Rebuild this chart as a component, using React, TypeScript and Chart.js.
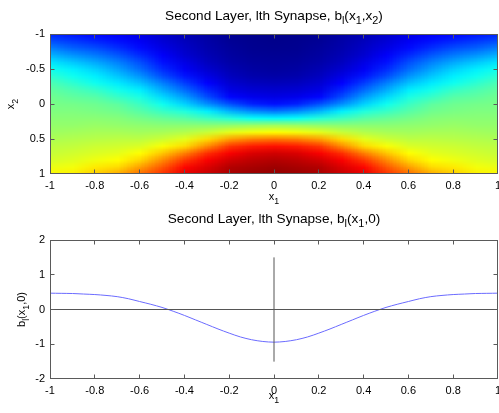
import React, { useEffect, useRef } from "react";
import { Chart, registerables } from "chart.js";

Chart.register(...registerables);

// ------------------------------------------------------------------
// DATA
// ------------------------------------------------------------------

// Heat-map grid (top panel): columns follow x1, rows follow x2.
const x1Grid = [-1, -0.9, -0.8, -0.7, -0.6, -0.5, -0.4, -0.3, -0.2, -0.1, 0, 0.1, 0.2, 0.3, 0.4, 0.5, 0.6, 0.7, 0.8, 0.9, 1];
const x2Grid = [-1, -0.9, -0.8, -0.7, -0.6, -0.5, -0.4, -0.3, -0.2, -0.1, 0, 0.1, 0.2, 0.3, 0.4, 0.5, 0.6, 0.7, 0.8, 0.9, 1];

// b_l(x1, x2)
const bRowM10 = [-0.86, -0.92, -0.98, -1.02, -1.1, -1.2, -1.3, -1.36, -1.42, -1.45, -1.46, -1.45, -1.42, -1.36, -1.3, -1.2, -1.1, -1.02, -0.98, -0.92, -0.86];
const bRowM09 = [-0.7, -0.78, -0.86, -0.94, -1.04, -1.16, -1.26, -1.34, -1.41, -1.44, -1.45, -1.44, -1.41, -1.34, -1.26, -1.16, -1.04, -0.94, -0.86, -0.78, -0.7];
const bRowM08 = [-0.5, -0.62, -0.7, -0.82, -0.96, -1.1, -1.22, -1.32, -1.39, -1.43, -1.44, -1.43, -1.39, -1.32, -1.22, -1.1, -0.96, -0.82, -0.7, -0.62, -0.5];
const bRowM07 = [-0.3, -0.42, -0.52, -0.66, -0.84, -1.02, -1.18, -1.29, -1.37, -1.41, -1.42, -1.41, -1.37, -1.29, -1.18, -1.02, -0.84, -0.66, -0.52, -0.42, -0.3];
const bRowM06 = [-0.1, -0.22, -0.34, -0.5, -0.7, -0.94, -1.1, -1.25, -1.34, -1.39, -1.4, -1.39, -1.34, -1.25, -1.1, -0.94, -0.7, -0.5, -0.34, -0.22, -0.1];
const bRowM05 = [0.06, -0.06, -0.18, -0.36, -0.58, -0.84, -1.04, -1.19, -1.3, -1.36, -1.38, -1.36, -1.3, -1.19, -1.04, -0.84, -0.58, -0.36, -0.18, -0.06, 0.06];
const bRowM04 = [0.18, 0.06, -0.06, -0.22, -0.42, -0.7, -0.92, -1.1, -1.25, -1.32, -1.34, -1.32, -1.25, -1.1, -0.92, -0.7, -0.42, -0.22, -0.06, 0.06, 0.18];
const bRowM03 = [0.3, 0.18, 0.06, -0.08, -0.24, -0.5, -0.76, -1.0, -1.18, -1.25, -1.27, -1.25, -1.18, -1.0, -0.76, -0.5, -0.24, -0.08, 0.06, 0.18, 0.3];
const bRowM02 = [0.38, 0.3, 0.22, 0.08, -0.06, -0.32, -0.58, -0.86, -1.1, -1.17, -1.19, -1.17, -1.1, -0.86, -0.58, -0.32, -0.06, 0.08, 0.22, 0.3, 0.38];
const bRowM01 = [0.44, 0.38, 0.34, 0.22, 0.1, -0.14, -0.38, -0.7, -0.98, -1.07, -1.1, -1.07, -0.98, -0.7, -0.38, -0.14, 0.1, 0.22, 0.34, 0.38, 0.44];
const bRow00 = [0.47, 0.46, 0.43, 0.37, 0.23, 0.06, -0.17, -0.43, -0.68, -0.87, -0.94, -0.87, -0.68, -0.43, -0.17, 0.06, 0.23, 0.37, 0.43, 0.46, 0.47];
const bRowP01 = [0.5, 0.5, 0.48, 0.44, 0.34, 0.22, 0.12, -0.06, -0.3, -0.46, -0.54, -0.46, -0.3, -0.06, 0.12, 0.22, 0.34, 0.44, 0.48, 0.5, 0.5];
const bRowP02 = [0.54, 0.54, 0.54, 0.52, 0.46, 0.4, 0.34, 0.24, 0.14, 0.02, -0.02, 0.02, 0.14, 0.24, 0.34, 0.4, 0.46, 0.52, 0.54, 0.54, 0.54];
const bRowP03 = [0.58, 0.58, 0.6, 0.58, 0.56, 0.54, 0.54, 0.54, 0.56, 0.6, 0.62, 0.6, 0.56, 0.54, 0.54, 0.54, 0.56, 0.58, 0.6, 0.58, 0.58];
const bRowP04 = [0.62, 0.64, 0.66, 0.66, 0.64, 0.66, 0.7, 0.78, 0.9, 0.96, 1.0, 0.96, 0.9, 0.78, 0.7, 0.66, 0.64, 0.66, 0.66, 0.64, 0.62];
const bRowP05 = [0.68, 0.7, 0.72, 0.74, 0.74, 0.8, 0.9, 1.14, 1.38, 1.5, 1.54, 1.5, 1.38, 1.14, 0.9, 0.8, 0.74, 0.74, 0.72, 0.7, 0.68];
const bRowP06 = [0.74, 0.76, 0.8, 0.82, 0.86, 0.98, 1.14, 1.46, 1.78, 1.9, 1.94, 1.9, 1.78, 1.46, 1.14, 0.98, 0.86, 0.82, 0.8, 0.76, 0.74];
const bRowP07 = [0.78, 0.82, 0.86, 0.9, 1.0, 1.22, 1.5, 1.82, 2.02, 2.14, 2.18, 2.14, 2.02, 1.82, 1.5, 1.22, 1.0, 0.9, 0.86, 0.82, 0.78];
const bRowP08 = [0.84, 0.88, 0.94, 1.0, 1.16, 1.46, 1.78, 2.02, 2.18, 2.26, 2.3, 2.26, 2.18, 2.02, 1.78, 1.46, 1.16, 1.0, 0.94, 0.88, 0.84];
const bRowP09 = [0.92, 0.96, 1.08, 1.14, 1.38, 1.66, 1.98, 2.14, 2.3, 2.34, 2.38, 2.34, 2.3, 2.14, 1.98, 1.66, 1.38, 1.14, 1.08, 0.96, 0.92];
const bRowP10 = [1.02, 1.06, 1.2, 1.34, 1.58, 1.82, 2.1, 2.22, 2.34, 2.4, 2.42, 2.4, 2.34, 2.22, 2.1, 1.82, 1.58, 1.34, 1.2, 1.06, 1.02];

const colorLimits = [-1.5, 2.5];

// Bottom panel: b_l(x1, 0)
const lineX1 = [
  -1, -0.95, -0.9, -0.85, -0.8, -0.75, -0.7, -0.65, -0.6, -0.55, -0.5, -0.45, -0.4, -0.35, -0.3, -0.25, -0.2, -0.15, -0.1, -0.05,
  0, 0.05, 0.1, 0.15, 0.2, 0.25, 0.3, 0.35, 0.4, 0.45, 0.5, 0.55, 0.6, 0.65, 0.7, 0.75, 0.8, 0.85, 0.9, 0.95, 1,
];
const lineB = [
  0.47, 0.465, 0.46, 0.445, 0.43, 0.405, 0.37, 0.31, 0.23, 0.15, 0.06, -0.05, -0.17, -0.3, -0.43, -0.56, -0.68, -0.79, -0.87, -0.92,
  -0.94, -0.92, -0.87, -0.79, -0.68, -0.56, -0.43, -0.3, -0.17, -0.05, 0.06, 0.15, 0.23, 0.31, 0.37, 0.405, 0.43, 0.445, 0.46, 0.465, 0.47,
];
// black reference lines in the bottom panel
const hLineX = [-1, 1];
const hLineY = [0, 0];
const vLineX = [0, 0];
const vLineY = [-1.5, 1.5];

// ticks
const xTicks = [-1, -0.8, -0.6, -0.4, -0.2, 0, 0.2, 0.4, 0.6, 0.8, 1];
const yTicksTop = [-1, -0.5, 0, 0.5, 1];
const yTicksBottom = [-2, -1, 0, 1, 2];

// ------------------------------------------------------------------
// PRESENTATION
// ------------------------------------------------------------------
const W = 499;
const H = 413;
const FONT = '"Liberation Sans", Arial, Helvetica, sans-serif';
const FRAME = "#5a5a5a";
const TICK_LEN = 4;
const TITLE_SIZE = 13.6;

type Part = { t: string; sub?: boolean };

const topTitle: Part[] = [
  { t: "Second Layer, lth Synapse, b" }, { t: "l", sub: true }, { t: "(x" }, { t: "1", sub: true },
  { t: ",x" }, { t: "2", sub: true }, { t: ")" },
];
const bottomTitle: Part[] = [
  { t: "Second Layer, lth Synapse, b" }, { t: "l", sub: true }, { t: "(x" }, { t: "1", sub: true },
  { t: ",0)" },
];
const x1Label: Part[] = [{ t: "x" }, { t: "1", sub: true }];
const x2Label: Part[] = [{ t: "x" }, { t: "2", sub: true }];
const bLabel: Part[] = [{ t: "b" }, { t: "l", sub: true }, { t: "(x" }, { t: "1", sub: true }, { t: ",0)" }];

function drawRich(ctx: CanvasRenderingContext2D, parts: Part[], x: number, y: number, size: number, rot = 0) {
  ctx.save();
  ctx.translate(x, y);
  if (rot) ctx.rotate(rot);
  const subSize = size * 0.8;
  const widths = parts.map((p) => {
    ctx.font = `${p.sub ? subSize : size}px ${FONT}`;
    return ctx.measureText(p.t).width;
  });
  const total = widths.reduce((a, b) => a + b, 0);
  let cx = -total / 2;
  ctx.textAlign = "left";
  ctx.textBaseline = "alphabetic";
  ctx.fillStyle = "#000";
  parts.forEach((p, i) => {
    ctx.font = `${p.sub ? subSize : size}px ${FONT}`;
    ctx.fillText(p.t, cx, p.sub ? size * 0.32 : 0);
    cx += widths[i];
  });
  ctx.restore();
}

function jet(t: number): [number, number, number] {
  const u = Math.max(0, Math.min(1, t));
  const f = (c: number) => Math.max(0, Math.min(1, 1.5 - Math.abs(4 * u - c)));
  return [f(3), f(2), f(1)];
}

const heatmapPlugin = {
  id: "heatmap",
  beforeDatasetsDraw(chart: any) {
    const grid = [
      bRowM10, bRowM09, bRowM08, bRowM07, bRowM06, bRowM05, bRowM04, bRowM03, bRowM02, bRowM01, bRow00,
      bRowP01, bRowP02, bRowP03, bRowP04, bRowP05, bRowP06, bRowP07, bRowP08, bRowP09, bRowP10,
    ];
    const { ctx, chartArea: a, scales } = chart;
    const xs = scales.x;
    const ys = scales.y;
    const nx = x1Grid.length;
    const ny = x2Grid.length;
    const off = document.createElement("canvas");
    off.width = nx;
    off.height = ny;
    const octx = off.getContext("2d")!;
    const img = octx.createImageData(nx, ny);
    const [cmin, cmax] = colorLimits;
    for (let j = 0; j < ny; j++) {
      for (let i = 0; i < nx; i++) {
        const [r, g, b] = jet((grid[j][i] - cmin) / (cmax - cmin));
        const k = (j * nx + i) * 4;
        img.data[k] = Math.round(r * 255);
        img.data[k + 1] = Math.round(g * 255);
        img.data[k + 2] = Math.round(b * 255);
        img.data[k + 3] = 255;
      }
    }
    octx.putImageData(img, 0, 0);
    const hx = (x1Grid[1] - x1Grid[0]) / 2;
    const hy = (x2Grid[1] - x2Grid[0]) / 2;
    const xl = xs.getPixelForValue(x1Grid[0] - hx);
    const xr = xs.getPixelForValue(x1Grid[nx - 1] + hx);
    const y0 = ys.getPixelForValue(x2Grid[0] - hy);
    const y1 = ys.getPixelForValue(x2Grid[ny - 1] + hy);
    ctx.save();
    ctx.beginPath();
    ctx.rect(a.left, a.top, a.right - a.left, a.bottom - a.top);
    ctx.clip();
    ctx.imageSmoothingEnabled = true;
    ctx.drawImage(off, xl, Math.min(y0, y1), xr - xl, Math.abs(y1 - y0));
    ctx.restore();
  },
};

const framePlugin = {
  id: "frame",
  afterDatasetsDraw(chart: any) {
    const { ctx, chartArea: a, scales } = chart;
    const xs = scales.x;
    const ys = scales.y;
    const L = Math.round(a.left) + 0.5;
    const R = Math.round(a.right) - 0.5;
    const T = Math.round(a.top) + 0.5;
    const B = Math.round(a.bottom) - 0.5;
    ctx.save();
    ctx.strokeStyle = FRAME;
    ctx.lineWidth = 1;
    ctx.beginPath();
    xs.ticks.forEach((t: any) => {
      if (t.value <= xs.min || t.value >= xs.max) return;
      const p = Math.floor(xs.getPixelForValue(t.value)) + 0.5;
      ctx.moveTo(p, B);
      ctx.lineTo(p, B - TICK_LEN);
      ctx.moveTo(p, T);
      ctx.lineTo(p, T + TICK_LEN);
    });
    ys.ticks.forEach((t: any) => {
      if (t.value <= ys.min || t.value >= ys.max) return;
      const p = Math.floor(ys.getPixelForValue(t.value)) + 0.5;
      ctx.moveTo(L, p);
      ctx.lineTo(L + TICK_LEN, p);
      ctx.moveTo(R, p);
      ctx.lineTo(R - TICK_LEN, p);
    });
    ctx.stroke();
    ctx.strokeRect(L, T, R - L, B - T);
    ctx.restore();
  },
};

function labelsPlugin(title: Part[], titleY: number, xl: Part[], xlY: number, yl: Part[], ylX: number) {
  return {
    id: "labels",
    afterDraw(chart: any) {
      const { ctx, chartArea: a } = chart;
      const cx = (a.left + a.right) / 2;
      const cy = (a.top + a.bottom) / 2;
      drawRich(ctx, title, cx, titleY, TITLE_SIZE);
      drawRich(ctx, xl, cx, xlY, 11);
      drawRich(ctx, yl, ylX, cy, 11, -Math.PI / 2);
    },
  };
}

const fmt = (v: number) => String(Number(v.toFixed(2)));

function scalesFor(bottom: number, yTicks: number[], yMin: number, yMax: number, reverse: boolean) {
  const tickFont = { family: FONT, size: 11 };
  return {
    x: {
      type: "linear",
      min: -1,
      max: 1,
      grid: { display: false, drawTicks: false },
      border: { display: false },
      afterBuildTicks: (s: any) => {
        s.ticks = xTicks.map((v) => ({ value: v }));
      },
      afterFit: (s: any) => {
        s.height = H - bottom;
        s.paddingLeft = 0;
        s.paddingRight = 0;
      },
      ticks: { font: tickFont, color: "#000", padding: 5, maxRotation: 0, autoSkip: false, callback: (v: any) => fmt(Number(v)) },
    },
    y: {
      type: "linear",
      min: yMin,
      max: yMax,
      reverse,
      grid: { display: false, drawTicks: false },
      border: { display: false },
      afterBuildTicks: (s: any) => {
        s.ticks = yTicks.map((v) => ({ value: v }));
      },
      afterFit: (s: any) => {
        s.width = 50;
        s.paddingTop = 0;
        s.paddingBottom = 0;
      },
      ticks: { font: tickFont, color: "#000", padding: 5, autoSkip: false, callback: (v: any) => fmt(Number(v)) },
    },
  };
}

export default function App() {
  const topRef = useRef<HTMLCanvasElement>(null);
  const botRef = useRef<HTMLCanvasElement>(null);

  useEffect(() => {
    Chart.defaults.font.family = FONT;
    const top = new Chart(topRef.current as HTMLCanvasElement, {
      type: "scatter",
      data: { datasets: [{ data: [], pointRadius: 0 }] },
      options: {
        responsive: false,
        animation: false,
        events: [],
        layout: { padding: { left: 0, right: 1, top: 34, bottom: 0 } },
        plugins: { legend: { display: false }, tooltip: { enabled: false }, title: { display: false } },
        scales: scalesFor(174, yTicksTop, -1, 1, true) as any,
      },
      plugins: [heatmapPlugin, framePlugin, labelsPlugin(topTitle, 19.5, x1Label, 200, x2Label, 14)],
    } as any);

    const bottom = new Chart(botRef.current as HTMLCanvasElement, {
      type: "scatter",
      data: {
        datasets: [
          {
            data: hLineX.map((x, i) => ({ x, y: hLineY[i] })),
            showLine: true,
            borderColor: "#555555",
            borderWidth: 1,
            pointRadius: 0,
          },
          {
            data: vLineX.map((x, i) => ({ x, y: vLineY[i] })),
            showLine: true,
            borderColor: "#555555",
            borderWidth: 1,
            pointRadius: 0,
          },
          {
            data: lineX1.map((x, i) => ({ x, y: lineB[i] })),
            showLine: true,
            borderColor: "#6b6bff",
            borderWidth: 1,
            pointRadius: 0,
            tension: 0.3,
          },
        ],
      },
      options: {
        responsive: false,
        animation: false,
        events: [],
        layout: { padding: { left: 0, right: 1, top: 240, bottom: 0 } },
        plugins: { legend: { display: false }, tooltip: { enabled: false }, title: { display: false } },
        scales: scalesFor(379, yTicksBottom, -2, 2, false) as any,
      },
      plugins: [framePlugin, labelsPlugin(bottomTitle, 222.5, x1Label, 399, bLabel, 25)],
    } as any);

    return () => {
      top.destroy();
      bottom.destroy();
    };
  }, []);

  return (
    <div style={{ position: "fixed", left: 0, top: 0, width: W, height: H, background: "#fff" }}>
      <canvas ref={topRef} width={W} height={H} style={{ position: "absolute", left: 0, top: 0, width: W, height: H }} />
      <canvas ref={botRef} width={W} height={H} style={{ position: "absolute", left: 0, top: 0, width: W, height: H }} />
    </div>
  );
}
